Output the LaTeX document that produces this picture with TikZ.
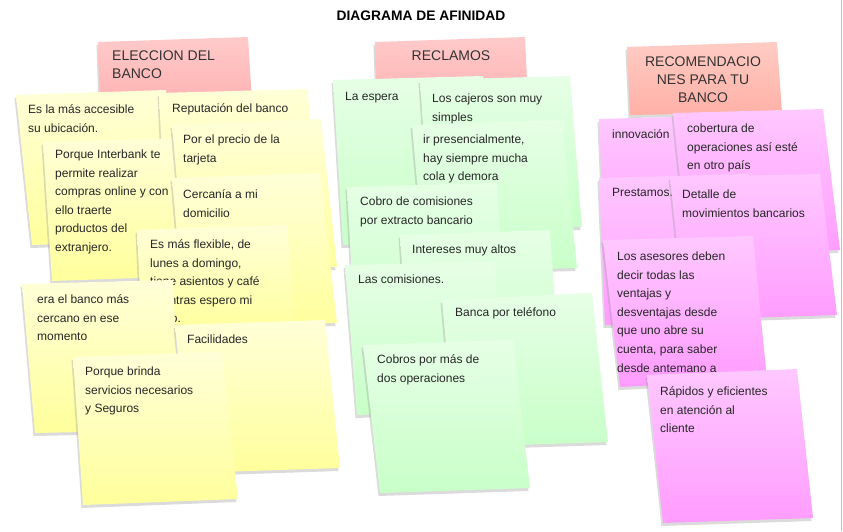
\documentclass[tikz,border=0pt]{standalone}
\usepackage{fontspec}
\setmainfont{Liberation Sans}
\usetikzlibrary{shadows}

\definecolor{yellowtop}{HTML}{FFFFD8}
\definecolor{yellowbot}{HTML}{FFFF9C}
\definecolor{greentop}{HTML}{E6FFE6}
\definecolor{greenbot}{HTML}{C8FFC8}
\definecolor{pinktop}{HTML}{FFC8FF}
\definecolor{pinkbot}{HTML}{FF9CFF}
\definecolor{headtop}{HTML}{FFCACA}
\definecolor{headbot}{HTML}{FFB2B2}
\definecolor{salmontop}{HTML}{FFCCC4}
\definecolor{salmonbot}{HTML}{FFB0A6}

\begin{document}
\begin{tikzpicture}[
    x=1pt, y=-1pt,
    note/.style={drop shadow={shadow xshift=-1.5pt, shadow yshift=-3pt, fill=black!40, opacity=0.35}},
    yellownote/.style={note, top color=yellowtop, bottom color=yellowbot},
    greennote/.style={note, top color=greentop, bottom color=greenbot},
    pinknote/.style={note, top color=pinktop, bottom color=pinkbot},
    headnote/.style={note, top color=headtop, bottom color=headbot},
    notetext/.style={anchor=north west, align=left, inner sep=0pt, text=black!85,
        font=\fontsize{12}{18.6}\selectfont, execute at begin node=\strut},
    headtext/.style={anchor=north, align=center, inner sep=0pt, text=black!80,
        font=\fontsize{14}{17.8}\selectfont, execute at begin node=\strut},
    title/.style={font=\bfseries\fontsize{13.8}{16}\selectfont}
]

\path[use as bounding box, fill=white] (0,0) rectangle (843,531);
\draw[black!25] (841,0) -- (841,531);

% Title
\node[title] (title) at (421,16) {DIAGRAMA DE AFINIDAD};

% === LEFT GROUP: ELECCION DEL BANCO ===
\path[headnote] (98,42) -- (248,37) -- (252,102) -- (100,104) -- cycle;
\node[headtext, anchor=north west, align=left] (eleccion) at (112,50.5) {ELECCION DEL\\BANCO};

\path[yellownote] (16,95) -- (166,90) -- (172,240) -- (32,245) -- cycle;
\node[notetext] (accesible) at (28,104.5) {Es la más accesible\\su ubicación.};

\path[yellownote] (159,93) -- (308,89) -- (316,240) -- (166,244) -- cycle;
\node[notetext] (reputacion) at (172,99) {Reputación del banco};

\path[yellownote] (43,142) -- (190,138) -- (196,276) -- (52,281) -- cycle;
\node[notetext] (interbank) at (55,149.5) {Porque Interbank te\\permite realizar\\compras online y con\\ello traerte\\productos del\\extranjero.};

\path[yellownote] (172,125) -- (321,119) -- (337,267) -- (185,272) -- cycle;
\node[notetext] (precio) at (183,134.5) {Por el precio de la\\tarjeta};

\path[yellownote] (172,178) -- (320,173) -- (337,323) -- (185,327) -- cycle;
\node[notetext] (cercania) at (183,189.5) {Cercanía a mi\\domicilio};

\path[yellownote] (137,230) -- (287,225) -- (295,330) -- (142,335) -- cycle;
\node[notetext] (flexible) at (150,239.5) {Es más flexible, de\\lunes a domingo,\\tiene asientos y café\\mientras espero mi\\turno.};

\path[yellownote] (22,284) -- (173,280) -- (180,430) -- (35,433) -- cycle;
\node[notetext] (cercano) at (37,294.5) {era el banco más\\cercano en ese\\momento};

\path[yellownote] (175,325) -- (325,320) -- (340,468) -- (190,473) -- cycle;
\node[notetext] (facilidades) at (187,330) {Facilidades};

\path[yellownote] (73,357) -- (222,352) -- (238,499) -- (83,505) -- cycle;
\node[notetext] (brinda) at (85,366.5) {Porque brinda\\servicios necesarios\\y Seguros};

% === MIDDLE GROUP: RECLAMOS ===
\path[headnote] (375,42) -- (525,37) -- (528,102) -- (377,104) -- cycle;
\node[headtext] (reclamos) at (451,47.5) {RECLAMOS};

\path[greennote] (333,80) -- (483,76) -- (490,240) -- (343,245) -- cycle;
\node[notetext] (espera) at (345,87) {La espera};

\path[greennote] (420,80) -- (570,76) -- (582,227) -- (430,232) -- cycle;
\node[notetext] (cajeros) at (432,93.5) {Los cajeros son muy\\simples};

\path[greennote] (412,125) -- (562,120) -- (577,268) -- (425,272) -- cycle;
\node[notetext] (presencial) at (423,134.5) {ir presencialmente,\\hay siempre mucha\\cola y demora};

\path[greennote] (347,187) -- (497,183) -- (505,330) -- (355,335) -- cycle;
\node[notetext] (cobro) at (360,196.5) {Cobro de comisiones\\por extracto bancario};

\path[greennote] (400,235) -- (550,230) -- (560,380) -- (410,385) -- cycle;
\node[notetext] (intereses) at (412,240) {Intereses muy altos};

\path[greennote] (345,265) -- (495,262) -- (505,410) -- (357,415) -- cycle;
\node[notetext] (comisiones) at (358,270) {Las comisiones.};

\path[greennote] (442,300) -- (592,293) -- (608,442) -- (455,447) -- cycle;
\node[notetext] (banca) at (455,303) {Banca por teléfono};

\path[greennote] (363,345) -- (513,340) -- (530,488) -- (380,493) -- cycle;
\node[notetext] (cobros) at (377,354.5) {Cobros por más de\\dos operaciones};

% === RIGHT GROUP: RECOMENDACIONES ===
\path[note, top color=salmontop, bottom color=salmonbot] (627,47) -- (777,42) -- (782,112) -- (630,115) -- cycle;
\node[headtext] (recomend) at (703,57) {RECOMENDACIO\\NES PARA TU\\BANCO};

\path[pinknote] (599,119) -- (749,115) -- (755,260) -- (605,265) -- cycle;
\node[notetext] (innovacion) at (612,125) {innovación};

\path[pinknote] (673,113) -- (823,109) -- (840,250) -- (688,255) -- cycle;
\node[notetext] (cobertura) at (687,123.5) {cobertura de\\operaciones así esté\\en otro país};

\path[pinknote] (599,178) -- (749,174) -- (755,320) -- (605,325) -- cycle;
\node[notetext] (prestamos) at (612,183) {Prestamos.};

\path[pinknote] (670,177) -- (820,174) -- (837,315) -- (685,320) -- cycle;
\node[notetext] (detalle) at (682,189.5) {Detalle de\\movimientos bancarios};

\path[pinknote] (603,240) -- (753,236) -- (767,380) -- (620,387) -- cycle;
\node[notetext] (asesores) at (617,251.5) {Los asesores deben\\decir todas las\\ventajas y\\desventajas desde\\que uno abre su\\cuenta, para saber\\desde antemano a};

\path[pinknote] (647,375) -- (797,369) -- (813,518) -- (663,523) -- cycle;
\node[notetext] (rapidos) at (660,386.5) {Rápidos y eficientes\\en atención al\\cliente};

\end{tikzpicture}
\end{document}
